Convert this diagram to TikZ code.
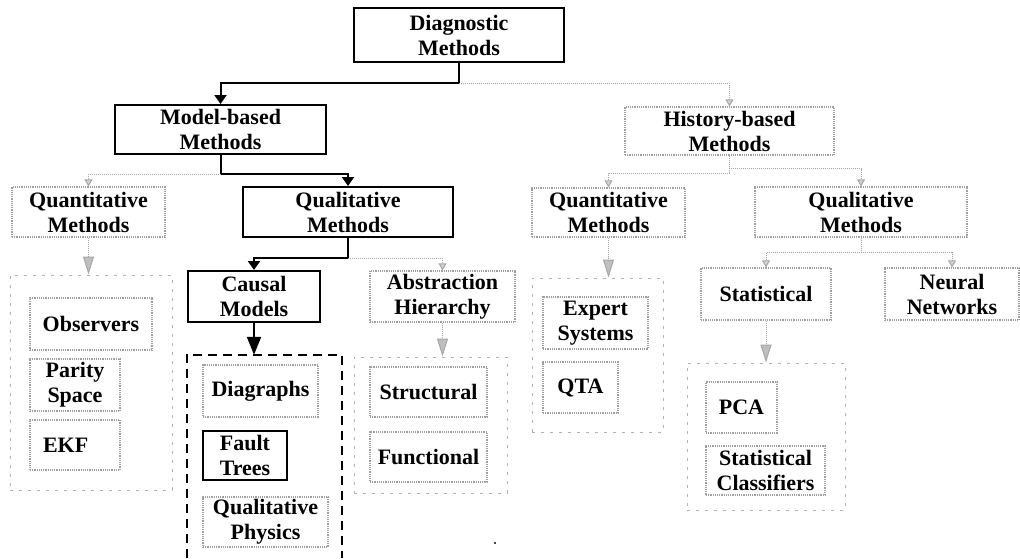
\documentclass[tikz,border=0pt]{standalone}
\usepackage{fontspec}
\setmainfont{Liberation Serif}
\usetikzlibrary{arrows.meta}

\tikzset{
  every node/.style={font=\bfseries\fontsize{22}{25}\selectfont, align=center, inner sep=0pt},
  sz/.style 2 args={minimum width=#1, minimum height=#2},
  blackbox/.style={draw=black, line width=2pt},
  greybox/.style={draw=gray!75, densely dotted, line width=1.2pt},
  groupbox/.style={draw=gray!60, dash pattern=on 3pt off 6pt, line width=1pt},
  bigdash/.style={draw=black, line width=2.2pt, dash pattern=on 9pt off 6pt},
  blackline/.style={draw=black, line width=2pt, -{Triangle[width=12pt,length=9pt]}},
  bigarrow/.style={draw=black, line width=2pt, -{Triangle[width=14pt,length=18pt]}},
  greyline/.style={draw=gray!70, densely dotted, line width=1pt, -{Triangle[width=8pt,length=7pt,fill=gray!35]}},
  grouparrow/.style={draw=gray!70, densely dotted, line width=1pt, -{Triangle[width=11pt,length=18pt,fill=gray!50]}},
}

\begin{document}
\begin{tikzpicture}[x=1pt,y=-1pt]
\useasboundingbox (0,0) rectangle (1020,558);

% top levels
\node[blackbox, sz={210pt}{54pt}] (diag)   at (459,35)    {Diagnostic\\Methods};
\node[blackbox, sz={211pt}{49pt}] (model)  at (220.5,129.5) {Model-based\\Methods};
\node[greybox,  sz={209pt}{48pt}] (hist)   at (729.5,131) {History-based\\Methods};

\node[greybox,  sz={153pt}{50pt}] (quantL) at (88.5,212)  {Quantitative\\Methods};
\node[blackbox, sz={210pt}{50pt}] (qualM)  at (348,212)   {Qualitative\\Methods};
\node[greybox,  sz={153pt}{49pt}] (quantH) at (608.5,212.5) {Quantitative\\Methods};
\node[greybox,  sz={212pt}{50pt}] (qualH)  at (861,212)   {Qualitative\\Methods};

\node[blackbox, sz={132pt}{51pt}] (causal) at (254,296.5)  {Causal\\Models};
\node[greybox,  sz={145pt}{51pt}] (abstr)  at (442.5,296.5) {Abstraction\\Hierarchy};
\node[greybox,  sz={130pt}{52pt}] (stat)   at (766,294)   {Statistical};
\node[greybox,  sz={134pt}{52pt}] (neural) at (952,294)   {Neural\\Networks};

% quantitative model-based group
\node[groupbox, sz={162pt}{215pt}] (grpL) at (91,382.5) {};
\node[greybox, sz={122pt}{52pt}] (obs)    at (91,324)  {Observers};
\node[greybox, sz={90pt}{52pt}]  (parity) at (75,385)  {Parity\\Space};
\node[greybox, sz={90pt}{50pt}, text width=64pt, inner xsep=13pt, align=left] (ekf) at (75,445) {EKF};

% causal models group
\node[sz={155pt}{203pt}] (dbox) at (264.5,456.5) {};
\draw[bigdash] (dbox.south west) |- (dbox.north east) -- (dbox.south east);
\node[greybox,  sz={115pt}{52pt}] (digr)  at (260.5,391) {Diagraphs};
\node[blackbox, sz={84pt}{49pt}]  (fault) at (245,455.5) {Fault\\Trees};
\node[greybox,  sz={125pt}{50pt}] (qphys) at (265.5,522) {Qualitative\\Physics};

% abstraction hierarchy group
\node[groupbox, sz={153pt}{136pt}] (grpA) at (430.5,425) {};
\node[greybox, sz={117pt}{50pt}] (struct) at (428.5,392) {Structural};
\node[greybox, sz={117pt}{50pt}] (func)   at (428.5,457) {Functional};

% quantitative history-based group
\node[groupbox, sz={131pt}{154pt}] (grpH) at (597.5,355) {};
\node[greybox, sz={105pt}{52pt}] (expert) at (595.5,323)   {Expert\\Systems};
\node[greybox, sz={75pt}{51pt}]  (qta)    at (580.5,387.5) {QTA};

% statistical group
\node[groupbox, sz={158pt}{147pt}] (grpS) at (766,436.5) {};
\node[greybox, sz={71pt}{51pt}]  (pca)     at (741.5,407.5) {PCA};
\node[greybox, sz={119pt}{49pt}] (classif) at (765.5,470.5) {Statistical\\Classifiers};

% connectors
\draw[blackline] (diag.south) -- ++(0,20) -| (model.north);
\draw[greyline]  (diag.south) ++(0,20) -| (hist.north);

\draw[blackline] (model.south) -- ++(0,19) -| (qualM.north);
\draw[greyline]  (model.south) ++(0,19) -| (quantL.north);

\draw[blackline] (qualM.south) -- ++(0,20) -| (causal.north);
\draw[greyline]  (qualM.south) ++(0,20) -| (abstr.north);

\draw[greyline]  (hist.south) -- ++(0,18) -| (quantH.north);
\draw[greyline]  (hist.south) -- ++(0,13) -| (qualH.north);

\draw[greyline]  (qualH.south) -- ++(0,15) -| (stat.north);
\draw[greyline]  (qualH.south) ++(0,15) -| (neural.north);

\draw[grouparrow] (quantL.south) -- (quantL.south |- grpL.north);
\draw[grouparrow] (abstr.south)  -- (abstr.south |- grpA.north);
\draw[grouparrow] (quantH.south) -- (quantH.south |- grpH.north);
\draw[grouparrow] (stat.south)   -- (stat.south |- grpS.north);
\draw[bigarrow]   (causal.south) -- (causal.south |- dbox.north);

% speck below the abstraction group
\fill (495,543) circle (1.2pt);
\end{tikzpicture}
\end{document}
